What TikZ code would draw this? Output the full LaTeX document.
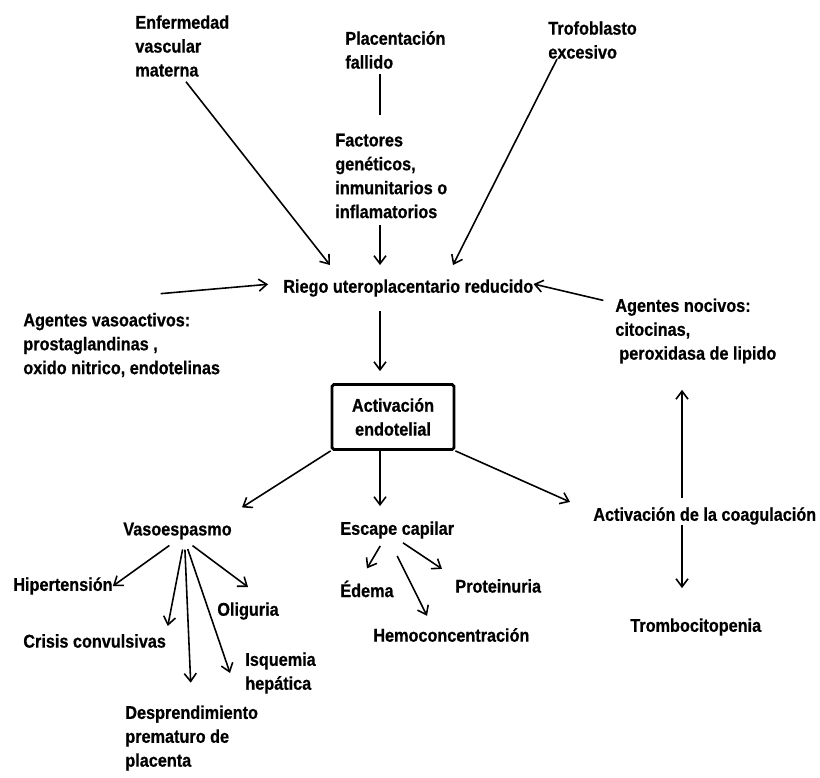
\documentclass[tikz,border=0pt]{standalone}
\usepackage{fontspec}
\setmainfont{Liberation Sans}[FakeStretch=0.88, BoldFeatures={FakeStretch=0.88, FakeBold=0.6}]
\usetikzlibrary{arrows.meta, positioning, calc}

\begin{document}
\begin{tikzpicture}[x=0.02cm, y=-0.02cm,
  every node/.style={font=\fontsize{10.5}{13.6}\selectfont\bfseries},
  txt/.style={inner sep=0pt, anchor=west, align=left},
  endobox/.style={draw, line width=1.6pt, rounded corners=1pt, minimum width=2.44cm, minimum height=1.3cm, align=center, inner sep=0pt},
  arr/.style={line width=0.9pt, -{Straight Barb[length=1.6mm, width=2.4mm]}},
  ln/.style={line width=0.9pt}]
  \useasboundingbox (0,0) rectangle (820,777);
  \coordinate (spine) at (380,0);
  \coordinate (coagx) at (682,0);

  % Causes
  \node[txt] (enf)  at (135,46)  {Enfermedad\\vascular\\materna};
  \node[txt] (plac) at (345,50)  {Placentación\\fallido};
  \node[txt] (trof) at (548,40)  {Trofoblasto\\excesivo};
  \node[txt] (fact) at (335,176) {Factores\\genéticos,\\inmunitarios o\\inflamatorios};

  % Centre
  \node[txt, inner ysep=0.28cm] (riego) at (283,288) {Riego uteroplacentario reducido};
  \node[txt] (vasoact) at (23,345)  {Agentes vasoactivos:\\prostaglandinas ,\\oxido nitrico, endotelinas};
  \node[txt] (nocivos) at (615,331) {Agentes nocivos:\\citocinas,\\\hspace*{0.08cm}peroxidasa de lipido};
  \node[endobox] (endo) at (393,417) {Activación\\endotelial};

  % Effects
  \node[txt] (vaso)   at (123,531) {Vasoespasmo};
  \node[txt] (escape) at (340,530) {Escape capilar};
  \node[txt] (coag)   at (593,516) {Activación de la coagulación};
  \node[txt] (hiper)  at (13,586)  {Hipertensión};
  \node[txt] (crisis) at (23,641)  {Crisis convulsivas};
  \node[txt] (oligu)  at (217,611) {Oliguria};
  \node[txt] (isq)    at (245,673) {Isquemia\\hepática};
  \node[txt] (despr)  at (125,738) {Desprendimiento\\prematuro de\\placenta};
  \node[txt] (edema)  at (340,589) {Édema};
  \node[txt] (prot)   at (455,586) {Proteinuria};
  \node[txt] (hemo)   at (373,635) {Hemoconcentración};
  \node[txt] (tromb)  at (630,627) {Trombocitopenia};

  % Arrows into the reduced flow
  \draw[arr, shorten <=0.12cm] (enf.south) -- ([xshift=0.94cm]riego.north west);
  \draw[ln, shorten <=0.1cm, shorten >=0.36cm] (plac.south -| spine) -- (fact.north -| spine);
  \draw[arr, shorten <=0.12cm] (fact.south -| spine) -- (riego.north -| spine);
  \draw[arr] ([xshift=0.18cm]trof.south west) -- ([xshift=3.4cm]riego.north west);
  \draw[arr, shorten >=0.3cm] ([xshift=0.78cm,yshift=0.38cm]vasoact.north) -- ([yshift=0.1cm]riego.west);
  \draw[arr, shorten <=0.24cm] ([yshift=-0.1cm]nocivos.north west) -- ([yshift=0.08cm]riego.east);

  % Arrows down
  \draw[arr, shorten >=0.24cm] (riego.south -| spine) -- (endo.north -| spine);
  \draw[arr] (endo.south west) -- ([xshift=0.2cm,yshift=0.3cm]vaso.north east);
  \draw[arr, shorten >=0.3cm] (endo.south -| spine) -- (escape.north -| spine);
  \draw[arr] (endo.south east) -- ([xshift=-0.46cm,yshift=0.1cm]coag.north west);

  % Coagulation
  \draw[arr, shorten <=0.18cm, shorten >=0.52cm] (coag.north -| coagx) -- (nocivos.south -| coagx);
  \draw[arr, shorten >=0.6cm] (coag.south -| coagx) -- (tromb.north -| coagx);

  % Vasoespasmo
  \draw[arr, shorten <=0.2cm] (vaso.south) -- (hiper.east);
  \draw[arr, shorten <=0.2cm, shorten >=0.16cm] ([xshift=0.14cm]vaso.south) -- (crisis.north east);
  \draw[arr, shorten <=0.2cm, shorten >=0.45cm] ([xshift=0.14cm]vaso.south) -- (despr.north);
  \draw[arr, shorten <=0.2cm] ([xshift=0.14cm]vaso.south) -- ([xshift=-0.3cm]isq.west);
  \draw[arr, shorten <=0.2cm] ([xshift=0.14cm]vaso.south) -- ([yshift=0.3cm]oligu.north);

  % Escape capilar
  \draw[arr] ([xshift=-0.34cm,yshift=-0.14cm]escape.south) -- ([yshift=0.24cm]edema.north);
  \draw[arr, shorten <=0.14cm] (escape.south) -- ([xshift=-0.26cm,yshift=0.2cm]prot.north west);
  \draw[arr] ([yshift=-0.34cm]escape.south) -- ([xshift=1.08cm,yshift=0.24cm]hemo.north west);
\end{tikzpicture}
\end{document}
